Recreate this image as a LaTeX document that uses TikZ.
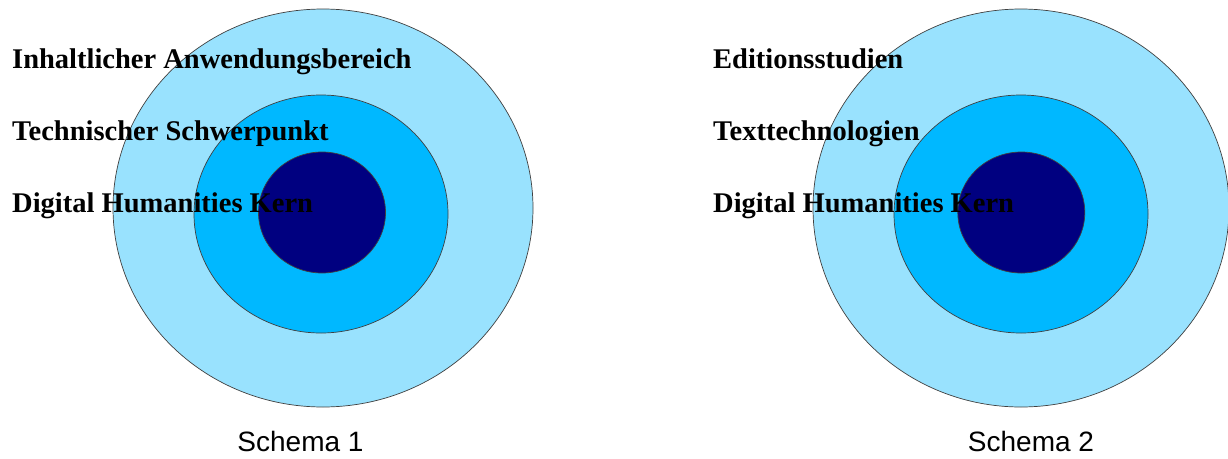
\documentclass[tikz,border=0pt]{standalone}
\usepackage{fontspec}
\setmainfont{Liberation Serif}
\newfontfamily\arialfont{Liberation Sans}
\usetikzlibrary{shapes.geometric}
\definecolor{ringouter}{HTML}{99E2FE}
\definecolor{ringmid}{HTML}{00B8FF}
\definecolor{ringcore}{HTML}{000080}
\definecolor{ringline}{HTML}{404040}
\tikzset{
  ring/.style={ellipse, draw=ringline, line width=0.7pt, inner sep=0pt},
  outerring/.style={ring, fill=ringouter, minimum width=420pt, minimum height=398pt},
  midring/.style={ring, fill=ringmid, minimum width=254pt, minimum height=238pt},
  corering/.style={ring, fill=ringcore, minimum width=127pt, minimum height=121pt},
  lbl/.style={anchor=base west, inner sep=0pt, font=\fontsize{28.5}{32}\selectfont\bfseries},
  caption/.style={anchor=base, inner sep=0pt, font=\fontsize{28}{32}\selectfont\arialfont}
}
\begin{document}
\begin{tikzpicture}[x=1pt,y=-1pt]
\useasboundingbox (0,0) rectangle (1228,458);
\fill[white] (0,0) rectangle (1228,458);
% Schema 1
\node[outerring] (o1) at (323,208) {};
\node[midring] (m1) at (321,214) {};
\node[corering] (c1) at (322,212.5) {};
\node[lbl] (a1) at (12,68) {Inhaltlicher Anwendungsbereich};
\node[lbl] (b1) at (12,140) {Technischer Schwerpunkt};
\node[lbl] (d1) at (12,212) {Digital Humanities Kern};
\node[caption] (s1) at (300.5,451) {Schema 1};
% Schema 2
\node[outerring, minimum width=416pt] (o2) at (1021,208) {};
\node[midring] (m2) at (1021,214) {};
\node[corering] (c2) at (1021.3,212.5) {};
\node[lbl] (a2) at (713,68) {Editionsstudien};
\node[lbl] (b2) at (713,140) {Texttechnologien};
\node[lbl] (d2) at (713,212) {Digital Humanities Kern};
\node[caption] (s2) at (1031,451) {Schema 2};
\end{tikzpicture}
\end{document}
